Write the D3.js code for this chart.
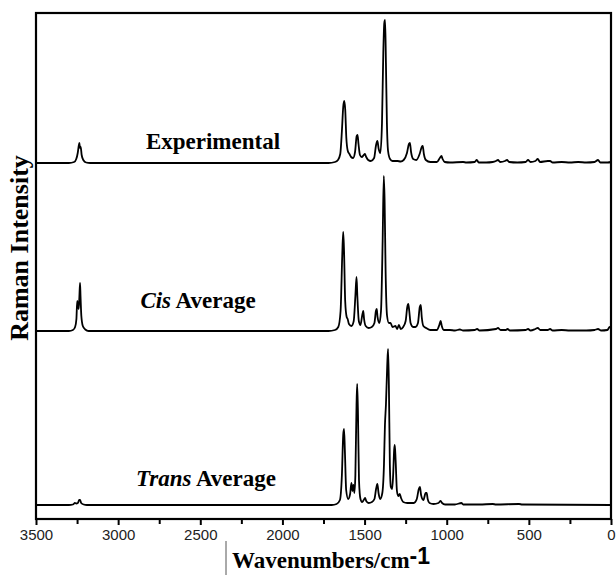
<!DOCTYPE html>
<html>
<head>
<meta charset="utf-8">
<script src="https://cdn.jsdelivr.net/npm/d3@7"></script>
<style>
  html, body { margin: 0; padding: 0; background: #fff; }
  svg { display: block; }
</style>
</head>
<body>
<svg id="chart" width="616" height="575"></svg>
<script>
// Raman spectra: [wavenumber cm-1, intensity a.u.]
var experimental = [
  [3500,0],[3300,0],[3268,1],[3255,4],[3246,10],[3240,17],[3236,20],[3232,15],[3228,16],[3222,8],[3212,3],[3195,0.5],[3170,0],
  [1720,0],[1680,1],[1662,3],[1648,9],[1638,32],[1630,56],[1624,62],[1618,54],[1611,25],[1602,12],[1592,9],[1582,6],[1570,5],
  [1558,11],[1548,27],[1543,28],[1537,19],[1528,8],[1517,6],[1505,8],[1498,9],[1490,6],[1478,3],[1462,2],
  [1442,5],[1430,18],[1422,22],[1414,14],[1404,10],[1394,40],[1386,110],[1380,140],[1375,143],[1370,100],[1364,40],[1357,12],
  [1345,4],[1330,2],[1300,2],[1280,1.5],[1262,3],[1242,10],[1230,19],[1224,20],[1217,11],[1204,4],[1185,3],
  [1165,9],[1152,16],[1146,17],[1139,9],[1127,3],[1100,1],[1060,1],[1042,5],[1032,7],[1025,4],[1012,1],[980,0.5],
  [900,1],[880,0.5],[830,1],[817,3],[805,0.5],[760,0.5],[720,1],[700,2],[688,3],[675,1],[645,2],[633,3],[620,1],
  [570,0.5],[520,1],[505,3],[490,1],[460,2],[446,4],[432,1],[385,2],[371,2],[355,0.5],[300,1],[250,0.5],[200,1],
  [150,0.5],[100,1],[79,3],[65,0.5],[20,0.5],[0,1]
];

var cisAverage = [
  [3500,0],[3300,0],[3275,1],[3262,4],[3254,12],[3249,30],[3245,26],[3240,22],[3236,34],[3232,48],[3229,35],[3224,15],[3215,5],[3200,1.5],[3180,0],
  [1720,0],[1680,1],[1660,4],[1646,20],[1636,75],[1630,99],[1625,80],[1618,30],[1609,14],[1603,12],[1595,7],[1580,5],
  [1566,10],[1556,35],[1549,54],[1544,35],[1535,10],[1525,6],[1514,16],[1508,20],[1503,12],[1493,5],[1475,3],
  [1456,4],[1440,8],[1431,20],[1426,22],[1421,14],[1410,8],[1400,20],[1390,90],[1383,155],[1378,130],[1372,60],[1363,15],
  [1352,8],[1342,8],[1330,4],[1312,5],[1302,2],[1291,6],[1280,2],[1265,4],[1250,10],[1240,24],[1234,27],[1228,20],[1220,8],
  [1205,4],[1190,4],[1175,8],[1164,24],[1158,26],[1152,14],[1142,5],[1125,3],[1100,1],[1060,1],[1045,6],[1037,10],[1030,5],
  [1018,1],[980,1],[950,0.5],[920,1.5],[900,0.5],[830,1],[815,2],[800,0.5],[700,2],[688,3],[672,1],[640,1],[630,2],[615,0.5],
  [520,1],[505,2],[490,0.5],[460,2],[446,3],[430,1],[385,1],[371,2],[355,0.5],[300,1],[250,0.5],[150,0.5],[100,1],
  [79,2],[60,0.5],[22,1],[8,4],[0,3]
];

var transAverage = [
  [3500,0],[3300,0],[3275,0.5],[3263,2],[3255,1.5],[3245,2],[3237,5],[3232,5],[3225,2],[3210,0.5],[3190,0],
  [1700,0],[1670,1],[1650,5],[1638,30],[1630,70],[1625,76],[1620,55],[1612,15],[1600,6],[1588,11],[1580,22],[1574,14],
  [1568,20],[1562,12],[1556,30],[1549,100],[1545,121],[1540,90],[1534,25],[1525,6],[1515,3],[1505,5],[1497,7],[1490,4],
  [1475,2],[1455,3],[1440,6],[1430,16],[1422,21],[1415,12],[1405,6],[1392,12],[1382,40],[1376,80],[1370,100],[1362,140],
  [1357,156],[1352,120],[1346,40],[1340,18],[1332,16],[1326,30],[1320,55],[1316,60],[1311,45],[1303,14],[1295,9],[1286,11],
  [1278,7],[1265,3],[1240,2],[1200,2],[1182,6],[1170,16],[1163,18],[1156,10],[1142,5],[1128,12],[1122,12],[1116,6],[1105,2],
  [1080,1],[1050,2],[1037,4],[1028,2],[1010,0.5],[950,0.5],[910,2],[900,0.5],[800,0.5],[720,1],[700,0.5],[560,1],[540,0.5],[0,0]
];

var seriesNames = ["Experimental", "Cis Average", "Trans Average"];
var majorTicks = [3500, 3000, 2500, 2000, 1500, 1000, 500, 0];
var minorTicks = [3250, 2750, 2250, 1750, 1250, 750, 250];

var svg = d3.select("#chart");
var plotLeft = 36, plotRight = 611, plotTop = 13, plotBottom = 519;

var x = d3.scaleLinear().domain([3500, 0]).range([plotLeft, plotRight]);
var y = d3.scaleLinear().domain([-14, 492]).range([plotBottom, plotTop]);

// vertical stacking of the three traces (a.u.)
var offsets = [342, 174, 0];

[experimental, cisAverage, transAverage].forEach(function(data, i){
  var line = d3.line()
    .x(function(d){ return x(d[0]); })
    .y(function(d){ return y(d[1] + offsets[i]); })
    .curve(d3.curveMonotoneX);
  svg.append("path")
    .datum(data)
    .attr("fill", "none")
    .attr("stroke", "#000")
    .attr("stroke-width", 1.8)
    .attr("stroke-linejoin", "round")
    .attr("d", line);
});

// frame
svg.append("rect")
  .attr("x", plotLeft).attr("y", plotTop)
  .attr("width", plotRight - plotLeft).attr("height", plotBottom - plotTop)
  .attr("fill", "none").attr("stroke", "#000").attr("stroke-width", 2.2);

// x axis
var xAxis = svg.append("g")
  .attr("transform", "translate(0," + plotBottom + ")")
  .call(d3.axisBottom(x).tickValues(majorTicks).tickSize(6).tickPadding(4).tickFormat(d3.format("d")));
xAxis.select(".domain").remove();
xAxis.selectAll("line").attr("stroke-width", 2);
xAxis.selectAll("text")
  .attr("font-family", "Liberation Sans, Arial, sans-serif")
  .attr("font-size", 15)
  .attr("fill", "#222");

var xMinor = svg.append("g")
  .attr("transform", "translate(0," + plotBottom + ")")
  .call(d3.axisBottom(x).tickValues(minorTicks).tickSize(5).tickFormat(""));
xMinor.select(".domain").remove();
xMinor.selectAll("line").attr("stroke-width", 2);

// series labels
var labelFont = "Liberation Serif, Times New Roman, serif";
var labels = [
  {x: 213, y: 149, parts: [["Experimental", "normal"]]},
  {x: 198, y: 308, parts: [["Cis", "italic"], [" Average", "normal"]]},
  {x: 206, y: 486, parts: [["Trans", "italic"], [" Average", "normal"]]}
];
labels.forEach(function(l){
  var t = svg.append("text")
    .attr("x", l.x).attr("y", l.y)
    .attr("text-anchor", "middle")
    .attr("font-family", labelFont)
    .attr("font-weight", "bold")
    .attr("font-size", 23);
  l.parts.forEach(function(p){
    t.append("tspan").attr("font-style", p[1]).text(p[0]);
  });
});

// axis titles
svg.append("text")
  .attr("transform", "translate(28,248) rotate(-90)")
  .attr("text-anchor", "middle")
  .attr("font-family", labelFont)
  .attr("font-weight", "bold")
  .attr("font-size", 26)
  .text("Raman Intensity");

var xt = svg.append("text")
  .attr("x", 232).attr("y", 568)
  .attr("font-family", labelFont)
  .attr("font-weight", "bold")
  .attr("font-size", 23);
xt.append("tspan").text("Wavenumbers/cm");
xt.append("tspan")
  .attr("font-family", "Liberation Sans, Arial, sans-serif")
  .attr("font-size", 23)
  .attr("dy", -4)
  .text("-1");

svg.append("line")
  .attr("x1", 226).attr("x2", 226).attr("y1", 541).attr("y2", 575)
  .attr("stroke", "#555").attr("stroke-width", 1);
</script>
</body>
</html>
